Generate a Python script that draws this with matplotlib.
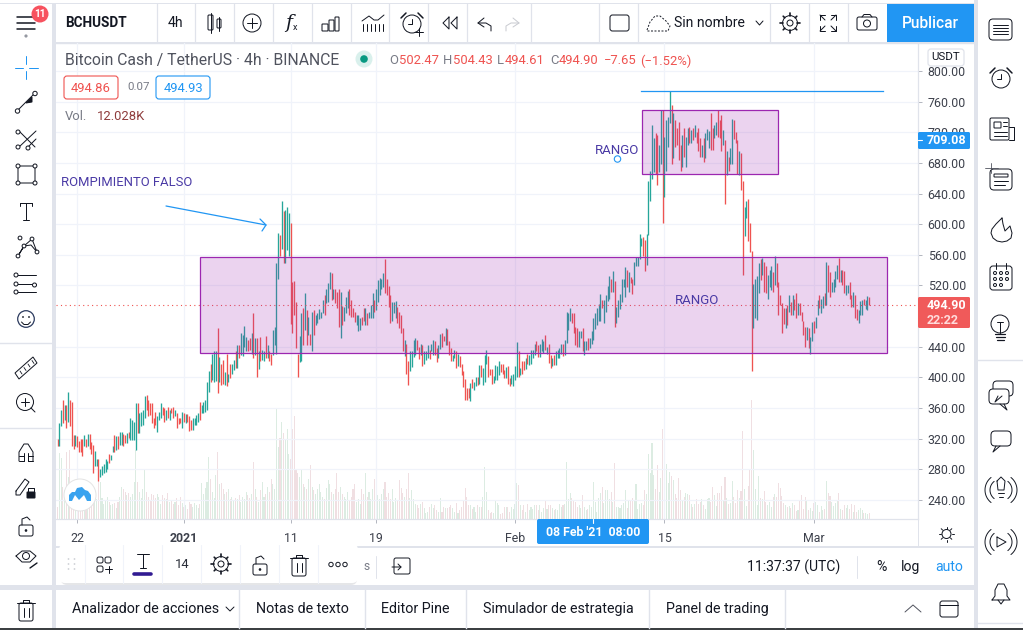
import numpy as np
import matplotlib
matplotlib.use("Agg")
import matplotlib.pyplot as plt
from matplotlib.patches import Rectangle, Circle, FancyBboxPatch, Polygon

plt.rcParams['font.family'] = ['Roboto', 'DejaVu Sans']

# 4h bars, left to right
highs = [
    320,340,358,370,364,364,381,371,368,325, 325,323,317,319,320,325,320,326,326,316,
    312,304,294,294,281,284,287,293,291,300, 299,310,325,323,323,329,329,326,325,328,
    329,347,344,342,366,366,353,355,357,376, 377,371,367,366,347,355,349,355,366,362,
    360,357,362,358,360,361,357,353,347,347, 355,353,352,352,349,344,347,347,351,353,
    368,364,368,370,394,409,418,430,435,435, 464,426,418,423,407,431,404,418,418,423,
    434,442,442,458,455,467,453,449,451,458, 484,451,451,434,453,436,434,454,442,434,
    431,462,466,549,588,586,630,617,618,622, 615,602,525,526,499,430,454,484,490,510,
    488,479,457,486,488,481,484,489,486,501, 508,515,523,538,536,516,515,512,516,512,
    493,492,505,513,515,501,490,486,481,481, 478,479,490,490,484,486,495,510,501,515,
    527,530,529,536,554,528,519,508,499,499, 500,492,486,481,464,449,444,421,434,435,
    449,451,449,440,444,442,434,435,442,436, 444,449,447,439,442,457,458,454,465,463,
    447,439,429,436,434,431,428,417,408,398, 386,386,393,398,394,401,400,416,416,412,
    429,436,428,411,411,402,416,415,421,417, 417,410,414,415,399,403,404,415,446,434,
    412,421,422,425,431,429,436,436,444,447, 442,444,450,448,455,440,444,429,425,429,
    434,436,439,444,444,449,485,484,490,484, 484,466,464,460,461,464,447,448,451,451,
    460,478,484,490,496,509,501,501,508,519, 532,528,539,526,492,501,509,528,529,544,
    540,537,531,529,551,557,557,587,582,583, 580,587,656,669,729,712,719,716,703,749,
    749,714,736,740,774,756,745,736,725,734, 703,716,725,714,726,727,723,726,730,721,
    725,712,703,712,719,724,722,745,725,730, 733,749,736,742,723,710,695,688,700,737,
    736,721,710,695,693,656,623,630,633,601, 565,522,529,532,549,555,556,551,545,534,
    540,545,538,559,549,525,508,497,490,490, 494,508,499,508,503,510,497,497,486,473,
    466,466,464,453,472,473,479,501,507,503, 506,510,551,547,538,525,529,539,547,556,
    540,540,539,521,521,525,508,512,508,489, 488,500,501,503,501,506,505,
]
lows = [
    311,310,337,340,344,334,342,336,310,306, 310,309,303,302,297,310,309,310,307,300,
    275,284,284,265,270,273,275,277,281,288, 292,303,303,305,307,312,312,310,314,314,
    321,318,318,318,305,327,327,336,338,347, 357,350,351,340,334,338,329,344,347,351,
    342,344,347,344,353,347,349,334,339,340, 334,342,340,342,330,331,331,338,338,342,
    344,353,354,355,357,381,394,396,394,395, 380,394,390,392,390,389,394,399,405,410,
    412,412,425,429,428,440,434,434,436,431, 425,429,401,411,421,423,421,425,425,421,
    416,429,442,431,529,558,568,549,550,566, 558,470,458,481,438,400,420,421,442,462,
    442,455,442,434,455,468,471,476,477,484, 482,497,499,516,501,503,497,490,466,452,
    468,473,484,490,481,479,479,472,468,461, 462,468,473,468,468,477,477,477,486,488,
    499,508,516,518,510,508,492,471,473,484, 477,471,464,458,434,428,404,390,408,414,
    427,429,436,424,429,415,418,423,425,424, 434,429,429,420,425,437,440,447,442,442,
    429,422,421,425,412,415,413,403,388,370, 370,373,369,386,384,389,390,391,400,390,
    394,418,400,403,391,393,396,397,403,407, 405,399,399,391,389,391,389,397,401,401,
    403,405,410,411,418,416,418,425,429,434, 427,427,434,432,436,431,419,412,415,416,
    416,425,425,431,428,429,445,462,473,471, 458,442,440,440,451,435,429,436,436,439,
    444,449,463,468,473,474,490,471,486,500, 503,512,512,466,471,479,489,499,518,505,
    518,512,523,509,521,545,545,555,571,558, 539,547,586,630,659,668,666,651,668,679,
    601,636,669,701,732,678,686,701,703,684, 669,675,688,675,704,706,706,710,714,706,
    695,688,688,681,687,710,700,697,697,712, 716,714,712,695,704,627,664,669,678,679,
    711,706,665,664,645,534,585,608,578,564, 408,464,477,475,510,527,534,512,510,503,
    518,514,512,521,518,482,495,458,470,464, 468,486,482,482,488,477,482,482,473,455,
    440,449,438,431,447,458,464,482,490,484, 490,495,495,512,505,512,512,518,529,525,
    525,520,510,508,510,503,492,492,477,475, 471,482,481,495,489,488,495,
]
directions = (
    "RGGRGRGRRR" "GRRRRGRGRR" "RGGRGGGGGR" "GGRGRGGRRG" "RGGGGRGGGG" "RRRRRRGGGR"
    "RGRGRRGRRR" "GRGRRRGGGG" "RGGGGGRGGG" "RGRRGRGRGG" "RGRGGGGRRG" "RGRGRGGRGR"
    "RGGGGRGRGG" "GRRRRRGGRG" "RGRGRGGGGG" "RGGGRGRRRG" "RGGGRRRRGG" "GRRGRGGGRG"
    "GGGGRRRRGG" "GRRRRGRRGG" "GGRRGRGGGR" "GGRRGGRRGR" "RRGGRGRRRR" "RRGRGGRGRG"
    "GGRRRGGGGR" "RRGRRGGGGR" "GRRGRGGGGR" "RGGGRGRRGR" "GGGGRGGGGR" "RRRGGRGGRG"
    "GGGGGGRGGG" "GRGRGGGGGG" "RGRRGGGGGR" "RGGGGGRRGG" "RGGGGRGRRR" "RGRGGRGRGR"
    "RRGRGGGRRG" "GRRRGRGRGG" "RRRGRRGGRR" "RGGGGRGRRG" "GGRGRRRRRG" "RGRGRRGRRR"
    "RGRGGRGGRG" "GRGRRGGGGR" "GRRGGRRGRR" "GGGRGGR"
)
volumes_k = [
    25,132,122,65,59,135,85,139,39,25, 32,29,45,25,39,42,32,25,35,59,
    49,47,40,80,75,42,30,37,45,35, 28,30,32,22,35,45,65,60,55,48,
    52,45,50,75,139,75,55,42,60,100, 55,45,38,50,48,42,50,45,30,48,
    42,40,52,35,38,30,35,42,28,45, 32,25,28,20,35,30,25,32,28,22,
    30,72,50,62,75,125,80,55,42,88, 135,70,72,60,50,55,60,40,45,38,
    42,40,48,35,45,40,55,48,42,50, 115,60,45,35,58,75,45,50,65,55,
    80,70,60,222,145,162,194,172,160,180, 130,120,180,206,100,92,85,99,70,65,
    60,80,109,65,58,50,60,70,55,45, 40,62,79,70,55,50,60,92,55,65,
    50,45,40,55,38,45,60,70,35,40, 30,60,50,92,45,55,40,60,80,60,
    48,40,50,60,75,45,52,40,60,35, 42,38,79,62,52,45,60,92,42,58,
    40,30,28,22,30,35,22,12,15,25, 30,22,28,18,15,42,15,25,22,22,
    25,28,22,15,32,12,18,25,38,62, 45,28,28,20,25,15,28,25,25,45,
    105,55,18,12,15,12,38,32,28,10, 12,25,25,25,15,25,20,30,72,68,
    28,18,28,15,30,18,25,20,28,28, 18,28,15,22,38,20,28,28,22,18,
    20,18,30,25,28,30,115,40,52,42, 38,35,25,28,22,48,25,18,20,28,
    25,75,35,15,42,52,65,32,58,58, 40,55,35,112,25,25,22,28,32,58,
    22,38,38,42,38,70,20,30,32,28, 58,50,130,92,153,89,61,109,55,82,
    180,79,110,73,94,87,79,51,43,82, 59,39,45,52,51,49,31,25,31,41,
    31,35,41,29,21,41,43,35,64,49, 27,53,53,67,39,84,43,31,32,77,
    45,32,59,43,57,176,61,27,67,100, 238,139,61,29,87,43,41,57,35,29,
    35,25,45,51,45,73,63,47,33,29, 25,27,23,33,29,17,19,39,49,21,
    45,39,19,23,17,32,35,29,15,27, 19,20,77,53,47,35,27,32,39,53,
    21,19,29,23,29,21,31,15,29,15, 19,23,19,13,13,11,12,
]
price_ticks = [800, 760, 720, 680, 640, 600, 560, 520, 440, 400, 360, 320, 280, 240]
date_ticks = [11, 71, 131, 179, 257, 341, 425]
date_labels = ['22', '2021', '11', '19', 'Feb', '15', 'Mar']
last_price = 494.9
range_low, range_high = 431.5, 556.7
range_left, range_right = 80, 466
top_low, top_high = 665, 748.6
top_left, top_right = 328.5, 405
resistance = 773.9
resistance_left, resistance_right = 327.6, 463.6

UP, DOWN = '#26a69a', '#ef5350'
INK = '#131722'
GREY = '#787b86'
LINE = '#e0e3eb'
BLUE = '#2196f3'
VIOLET = '#4a3aa5'
W, H = 1023, 630

fig = plt.figure(figsize=(W / 100, H / 100), dpi=100, facecolor=LINE)

def pixel_axes(z):
    a = fig.add_axes([0, 0, 1, 1], zorder=z, facecolor='none')
    a.set_xlim(0, W)
    a.set_ylim(H, 0)
    a.axis('off')
    return a

bg = pixel_axes(0)
ov = pixel_axes(5)

for x0, y0, x1, y1 in [(0, 4, 52, 585), (0, 590, 52, 628), (56, 4, 974, 42), (56, 43, 974, 546),
                       (56, 548, 974, 585), (56, 590, 974, 628), (978, 0, W, 628), (0, 0, 974, 3)]:
    bg.add_patch(Rectangle((x0, y0), x1 - x0, y1 - y0, fc='white', ec='none'))
bg.add_patch(Rectangle((0, 628), W, 2, fc='#3c4043', ec='none'))

# chart area, same pixel box for volume and candles
box_px = [56 / W, 1 - 519 / H, (918 - 56) / W, (519 - 43) / H]
x0_px, bar_px = 57.5, 1.78
xlim = ((56 - x0_px) / bar_px, (918 - x0_px) / bar_px)

vol = fig.add_axes(box_px, zorder=1, facecolor='none')
ax = fig.add_axes(box_px, zorder=2, facecolor='none')

idx = np.arange(len(highs))
is_up = np.array(list(directions)) == 'G'
vol.bar(idx, volumes_k, width=0.6, color=np.where(is_up, '#dcecE2', '#f0dfe2'))
vol.set_xlim(xlim)
vol.set_ylim(0, 952)
vol.axis('off')

ax.set_xlim(xlim)
ax.set_ylim(800 - 448 / 0.766, 800 + 28 / 0.766)
ax.set_yticks(price_ticks, [f'{p:.2f}' for p in price_ticks])
ax.set_xticks(date_ticks, date_labels)
ax.yaxis.tick_right()
ax.grid(True, color='#f0f3fa', lw=0.9)
ax.set_axisbelow(True)
ax.tick_params(axis='y', length=3, width=0.7, color='#b2b5be', labelcolor='#3d414c', labelsize=8.9, pad=4)
ax.tick_params(axis='x', length=3, width=0.7, color='#b2b5be', labelcolor='#3d414c', labelsize=8.9, pad=6)
ax.get_xticklabels()[1].set_fontweight('bold')
for side in ['top', 'left']:
    ax.spines[side].set_visible(False)
for side in ['right', 'bottom']:
    ax.spines[side].set_color(LINE)
    ax.spines[side].set_linewidth(0.9)

ax.vlines(idx, lows, highs, colors=np.where(is_up, UP, DOWN), lw=0.95, zorder=3)
ax.axhline(last_price, color=DOWN, lw=0.8, ls=(0, (1, 3)), zorder=3.5)
for l, r, b, t in [(range_left, range_right, range_low, range_high), (top_left, top_right, top_low, top_high)]:
    ax.add_patch(Rectangle((l, b), r - l, t - b, fc=(0.612, 0.153, 0.69, 0.2), ec='#9c27b0', lw=0.9, zorder=4))
ax.plot([resistance_left, resistance_right], [resistance, resistance], color=BLUE, lw=0.9, zorder=4)

def ln(xs, ys, c=INK, lw=0.72, z=2, **k):
    k.setdefault('solid_capstyle', 'round')
    ov.plot(xs, ys, color=c, lw=lw, zorder=z, **k)

def rbox(x0, y0, x1, y1, r=2, fc='none', ec=INK, lw=0.72, z=2, a=ov):
    a.add_patch(FancyBboxPatch((x0 + r, y0 + r), x1 - x0 - 2 * r, y1 - y0 - 2 * r,
                               boxstyle=f'round,pad={r},rounding_size={r}', fc=fc, ec=ec, lw=lw, zorder=z))

def circ(x, y, r, fc='none', ec=INK, lw=0.72, z=2):
    ov.add_patch(Circle((x, y), r, fc=fc, ec=ec, lw=lw, zorder=z))

def txt(x, y, s, px=14, c=INK, ha='left', **k):
    ov.text(x, y, s, fontsize=px * 0.72, color=c, ha=ha, va='center', zorder=k.pop('z', 6), **k)

def gear(x, y, z=2):
    circ(x, y, 3, z=z)
    circ(x, y, 7.4, z=z)
    for t in np.arange(8) * np.pi / 4:
        ln([x + 7.4 * np.cos(t), x + 9.6 * np.cos(t)], [y + 7.4 * np.sin(t), y + 9.6 * np.sin(t)], lw=1.2, z=z)

def lock(x, y, z=2):
    rbox(x - 7, y - 2, x + 7, y + 9, z=z)
    ln([x - 4, x - 4, x + 1, x + 4], [y - 2, y - 8, y - 10, y - 7], z=z)
    circ(x, y + 3.5, 0.8, fc=INK, z=z)

def trash(x, y, z=2):
    rbox(x - 7, y - 7, x + 7, y + 11, z=z)
    ln([x - 9, x + 9], [y - 7, y - 7], z=z)
    ln([x - 3, x - 3, x + 3, x + 3], [y - 7, y - 10, y - 10, y - 7], z=z)
    ln([x - 2.5, x - 2.5], [y - 2, y + 7], z=z)
    ln([x + 2.5, x + 2.5], [y - 2, y + 7], z=z)

def alarm(x, y, r=9):
    circ(x, y, r)
    ln([x, x, x - 4], [y - 5, y, y])
    ln([x - r - 2, x - r + 3], [y - r + 3, y - r - 2], lw=1.1)
    ln([x + r + 2, x + r - 3], [y - r + 3, y - r - 2], lw=1.1)

def chat(x, y, flip=False):
    s = -1 if flip else 1
    rbox(x - 10, y - 9, x + 10, y + 6, r=4, fc='white')
    ln([x - 5 * s, x - 8 * s, x - 1 * s], [y + 6, y + 12, y + 6], z=3)

# top toolbar
for x in [157, 195, 234, 273, 312, 351, 389, 428, 467, 531, 599, 638, 770, 809, 848]:
    bg.plot([x, x], [4, 42], color=LINE, lw=0.9)
bg.plot([56, 974], [42.5, 42.5], color=LINE, lw=1)
bg.plot([56, 974], [547, 547], color=LINE, lw=1.2)
for y in (17, 23, 29):
    ln([17, 35], [y, y], lw=1.1)
circ(26, 36, 1.6, fc='#9598a1', ec='none')
circ(40, 14, 8.5, fc='#f7525f', ec='none', z=3)
txt(40, 14, '11', 10, 'white', ha='center', fontweight='bold')
txt(65, 23, 'BCHUSDT', 13.5, fontweight='bold')
txt(175, 23, '4h', 14, ha='center')
rbox(208, 15, 213, 30, r=1); ln([210.5, 210.5], [13, 33])
rbox(217, 19, 221, 28, r=1); ln([219, 219], [17, 31])
circ(252, 23, 9); ln([247, 257], [23, 23]); ln([252, 252], [18, 28])
txt(285, 23, 'f', 19, style='italic', family='DejaVu Serif'); txt(293, 28, 'x', 9)
for x0, x1, y in [(322, 328, 24), (329, 334, 20), (335, 339, 17)]:
    rbox(x0, y, x1, 31, r=0.5)
for x in range(363, 384, 4):
    ln([x, x], [24, 31])
ln([362, 369, 374, 378, 384], [21, 16, 20, 20, 15], lw=0.7)
alarm(412, 24, 9); ln([415, 423], [32, 32]); ln([419, 419], [28, 36])
for dx in (0, 8):
    ln([449 + dx, 443 + dx, 449 + dx, 449 + dx], [17, 23, 29, 17])
ln([484, 478, 484], [18, 23, 27]); ln([478, 486, 491, 491], [23, 23, 26, 31])
ln([513, 519, 513], [18, 23, 27], c='#c9cbd1'); ln([519, 511, 506, 506], [23, 23, 26, 31], c='#c9cbd1')
rbox(610, 15, 629, 31, r=2.5)
ln([647, 650, 655, 660, 666, 670, 668, 647, 647], [30, 22, 16, 16, 21, 26, 31, 31, 30], ls=(0, (2, 1.6)), lw=0.7)
txt(674, 23, 'Sin nombre', 14)
ln([756, 759.5, 763], [21, 25, 21])
gear(790, 23)
for sx, sy in [(-1, -1), (1, -1), (-1, 1), (1, 1)]:
    ln([828 + sx * 8, 828 + sx * 8, 828 + sx * 3], [23 + sy * 3, 23 + sy * 8, 23 + sy * 8])
    ln([828 + sx * 8, 828 + sx * 3], [23 + sy * 8, 23 + sy * 3])
rbox(857, 17, 877, 30, r=2); circ(867, 23.5, 3.5); ln([862, 864, 870, 872], [17, 14.5, 14.5, 17])
ov.add_patch(Rectangle((887, 4), 87, 38, fc=BLUE, ec='none'))
txt(930.5, 23, 'Publicar', 15.5, 'white', ha='center', fontweight='medium')

# legend rows
txt(65, 60, 'Bitcoin Cash / TetherUS · 4h · BINANCE', 15.7, '#50535e')
circ(364, 59, 8.5, fc='#d9f0ec', ec='none')
circ(364, 59, 3.8, fc='#089981', ec='none', z=3)
for x, s in [(389, 'O'), (443, 'H'), (497, 'L'), (550, 'C')]:
    txt(x, 61, s, 13, GREY)
for x, s in [(399, '502.47'), (453, '504.43'), (505, '494.61'), (559, '494.90'), (604, '−7.65'), (640, '(−1.52%)')]:
    txt(x, 61, s, 13, DOWN)
rbox(64, 76, 118, 99, r=3, fc='white', ec=DOWN, lw=0.8)
txt(91, 88, '494.86', 13, DOWN, ha='center')
txt(127, 87, '0.07', 11.5, GREY)
rbox(156, 76, 210, 99, r=3, fc='white', ec=BLUE, lw=0.8)
txt(183, 88, '494.93', 13, BLUE, ha='center')
txt(65, 116, 'Vol.', 13, GREY)
txt(97, 116, '12.028K', 13, '#8f3d3d')
rbox(928, 49, 964, 66, r=3, fc='white', ec=LINE, lw=0.9, z=4)
txt(946, 57.5, 'USDT', 11.5, ha='center')

# drawings
txt(595, 150, 'RANGO', 13.3, VIOLET)
txt(675, 301, 'RANGO', 13.3, VIOLET)
txt(61, 182, 'ROMPIMIENTO FALSO', 13, VIOLET)
circ(617.5, 159, 3.2, fc='white', ec=BLUE, lw=0.8)
ln([166, 266], [206, 225], c=BLUE, lw=0.9)
ln([260, 266, 262], [219, 225, 231], c=BLUE, lw=0.9)

# price flags
ov.add_patch(FancyBboxPatch((918, 132), 52, 17, boxstyle='round,pad=0,rounding_size=1.5', fc=BLUE, ec='none', zorder=4))
txt(927, 141, '709.08', 12.5, 'white', fontweight='bold')
ln([918, 922], [140, 140], c='white', lw=0.8, z=5)
ov.add_patch(FancyBboxPatch((918, 297), 52, 31, boxstyle='round,pad=0,rounding_size=1.5', fc='#f05a5a', ec='none', zorder=4))
txt(927, 305.5, '494.90', 12.5, 'white', fontweight='bold')
txt(927, 320, '22:22', 12.5, '#ffdcdc', fontweight='bold')

# logo
circ(80, 495, 16, fc='white', ec='#e4e4e4', z=4)
ov.add_patch(Polygon([(69, 501), (69, 495), (72, 492), (75, 492), (77, 488), (82, 487), (85, 490), (88, 491),
                      (91, 495), (91, 501), (87, 501), (84, 495), (79, 500), (75, 495), (72, 501)],
                     fc='#3aa3ef', ec='none', zorder=5))

# time axis extras
ov.add_patch(FancyBboxPatch((537, 519), 112, 25, boxstyle='round,pad=0,rounding_size=2', fc=BLUE, ec='none', zorder=4))
txt(593, 533, "08 Feb '21  08:00", 12.2, 'white', ha='center', fontweight='bold')
ln([593, 593], [519, 523], c='white', lw=0.8, z=5)
ln([918, 918], [519, 547], c=LINE)
circ(946.5, 534, 4.5)
for t in np.arange(8) * np.pi / 4:
    ln([946.5 + 5.5 * np.cos(t), 946.5 + 7.5 * np.cos(t)], [534 + 5.5 * np.sin(t), 534 + 7.5 * np.sin(t)], lw=0.7)

# date range bar
txt(363, 566, 's', 12, GREY)
ln([376, 376], [556, 578], c=LINE)
rbox(394, 558, 410, 574, r=2, lw=0.7)
ln([392, 401, 398], [567, 567, 564], lw=0.7); ln([401, 398], [567, 570], lw=0.7)
txt(794, 567, '11:37:37 (UTC)', 14, ha='center')
ln([857, 857], [556, 578], c=LINE)
txt(881, 567, '%', 14, ha='center')
txt(911, 567, 'log', 14, ha='center')
txt(949, 567, 'auto', 14, BLUE, ha='center')

# floating drawing toolbar
ov.add_patch(FancyBboxPatch((61, 547), 296, 38, boxstyle='round,pad=0,rounding_size=6', fc='#d5d6da', ec='none', zorder=2.5, alpha=0.6))
ov.add_patch(FancyBboxPatch((59, 544), 299, 39, boxstyle='round,pad=0,rounding_size=6', fc='white', ec='none', zorder=3))
for x in [85, 123, 162, 201, 240, 279, 318]:
    ln([x, x], [545, 583], c='#f0f3fa', lw=0.8, z=4)
for dot_x in (68, 74):
    for dot_y in (559, 564, 569):
        circ(dot_x + 0.5, dot_y, 0.9, fc='#cfd1d6', ec='none', z=4)
for bx, by in [(100, 560), (108, 560), (100, 569)]:
    rbox(bx - 3, by - 3, bx + 3, by + 3, r=2, lw=0.7, z=4)
ln([105, 112], [569, 569], z=4); ln([108.5, 108.5], [565.5, 572.5], z=4)
ln([137, 149], [554, 554], z=4); ln([143, 143], [554, 568], z=4); ln([140, 146], [568, 568], z=4)
ln([134, 151], [574, 574], c='#311b92', lw=2.6, z=4)
txt(182, 565, '14', 13, '#2a2e39', ha='center')
gear(221, 564, z=4)
lock(260, 566, z=4)
trash(299, 565, z=4)
for x in (331, 338, 345):
    circ(x, 564.5, 2.2, lw=0.7, z=4)

# bottom tabs
for x in [239, 365, 466, 649, 785]:
    bg.plot([x, x], [590, 628], color=LINE, lw=1)
for x, s in [(72, 'Analizador de acciones'), (256, 'Notas de texto'), (381, 'Editor Pine'),
             (483, 'Simulador de estrategia'), (666, 'Panel de trading')]:
    txt(x, 609, s, 14.2)
ln([226, 230, 234], [607, 611, 607], lw=0.7)
ln([905, 913, 921], [612, 605, 612], lw=0.7, c='#50535e')
rbox(940, 601, 958, 617, r=2.5); ln([940, 958], [605, 605])

# left toolbar
for y in (343, 428):
    bg.plot([0, 52], [y, y], color=LINE, lw=1)
bg.plot([978, W], [360, 360], color=LINE, lw=1)
bg.plot([978, W], [623, 623], color=LINE, lw=1)
ln([15, 23], [68, 68], c=BLUE); ln([29, 38], [68, 68], c=BLUE)
ln([26, 26], [56, 64], c=BLUE); ln([26, 26], [71, 79], c=BLUE)
ln([18, 34], [110, 94]); circ(17.5, 111, 2.2, fc='white'); circ(35, 93.5, 2.2, fc='white')
ov.add_patch(Polygon([(26, 103), (32, 97), (32, 102)], fc=INK, ec=INK, lw=0.7, zorder=3))
ln([19, 35], [131, 147]); ln([19, 36], [147, 131]); ln([28, 36], [147, 139])
for x, y in [(18, 132), (18, 147), (28, 148)]:
    circ(x, y, 2, fc='white', z=3)
rbox(18, 166, 35, 183, r=0.1)
for x, y in [(18, 166), (35, 166), (18, 183), (35, 183)]:
    circ(x, y, 2, fc='white', z=3)
ln([20, 32], [203, 203]); ln([26, 26], [203, 220]); ln([23, 29], [220, 220]); ln([20, 20], [203, 206]); ln([32, 32], [203, 206])
ln([18, 24, 32, 37, 31, 24, 18], [256, 246, 239, 252, 245, 246, 256])
for x, y in [(18, 256), (20, 238), (24, 246), (32, 239), (37, 252)]:
    circ(x, y, 1.9, fc='white', z=3)
for y in (275, 284, 292):
    ln([16, 36], [y, y])
    circ(16, y, 2, fc='white', z=3)
circ(34.5, 285, 2, fc='white', z=3)
circ(26, 319, 8.3, ec='#2b3a5e', lw=0.9)
circ(23, 317, 0.9, fc=INK, ec='none'); circ(29, 317, 0.9, fc=INK, ec='none')
ln([21.5, 24, 28, 30.5], [322, 324.5, 324.5, 322])
ov.add_patch(Polygon([(15, 373), (33, 357), (37, 363), (19, 379)], fc='white', ec=INK, lw=0.72, zorder=2))
for mark_x, mark_y in [(20, 371), (24, 367.5), (28, 364), (32, 360.5)]:
    ln([mark_x, mark_x + 2], [mark_y, mark_y + 3], lw=0.6, z=3)
circ(25, 402, 8.5); ln([31, 35], [408, 412]); ln([21, 29], [402, 402]); ln([25, 25], [398, 406])
ln([19, 19, 24, 28, 33, 33], [461, 452, 444, 444, 452, 461])
ln([24, 24], [461, 453]); ln([28, 28], [461, 453])
ln([19, 24], [461, 461]); ln([28, 33], [461, 461]); ln([19, 24], [456, 456]); ln([28, 33], [456, 456])
ln([16, 25, 29, 20, 16, 16], [491, 479, 482, 495, 495, 491])
rbox(27, 492, 35, 498, r=0.5, fc=INK); ln([28, 28, 34, 34], [492, 488, 488, 492])
lock(26, 527)
ln([16, 22, 30, 36, 30, 22, 16], [556, 551, 551, 556, 562, 562, 556]); circ(26, 556, 3.5)
ln([30, 37], [568, 563], lw=1.0)
trash(26, 610)

# right toolbar
rbox(989, 19, 1012, 40, r=4)
for y in (25, 28, 31, 34):
    ln([993, 1008], [y, y], lw=0.7)
alarm(1001, 79, 9)
rbox(990, 118, 1009, 140, r=1.5); ln([1009, 1014, 1014, 1009], [127, 127, 140, 140])
rbox(994, 122, 1001, 128, r=0.5)
for y, x0 in [(122, 1003), (126, 1003), (132, 994), (136, 994)]:
    ln([x0, 1007], [y, y], lw=0.7)
rbox(990, 169, 1012, 190, r=4)
ln([985, 998], [168, 168], lw=0.6, c='#50535e'); ln([991, 991], [163, 173], lw=0.6, c='#50535e')
rbox(994, 174, 1008, 177, r=0.5)
ln([994, 1008], [181, 181]); ln([994, 1005], [185, 185])
ln([1002, 996, 992, 991, 993, 997, 1002, 1007, 1011, 1012, 1010, 1005, 1003, 1002],
   [218, 224, 229, 233, 238, 241, 242, 241, 238, 233, 226, 231, 224, 218])
rbox(990, 266, 1012, 290, r=3)
for x in (996, 1006):
    ln([x, x], [263, 269])
for x in (995, 1001, 1007):
    for y in (273, 279):
        circ(x, y, 1.5)
for x in (995, 1001):
    circ(x, 285, 1.5)
circ(1000, 324, 9)
ln([997, 1003], [322, 322]); ln([1000, 1000], [322, 333])
for y, hw in [(334, 5), (337, 4.5), (340, 3.5)]:
    ln([1000 - hw, 1000 + hw], [y, y], lw=0.9)
chat(1003, 390); chat(999, 398, flip=True)
chat(1001, 440)
arc = np.linspace(-0.9, 0.9, 20)
for y0 in (490, 542):
    for r in (11, 16):
        ln(1001 + r * np.cos(arc), y0 + r * np.sin(arc), lw=0.7)
        ln(1001 - r * np.cos(arc), y0 + r * np.sin(arc), lw=0.7)
ln([997, 1001, 1005, 1004, 998, 997], [481, 477, 481, 490, 490, 481], lw=0.7)
ln([998, 1004], [493, 493], lw=0.7); ln([999, 1003], [497, 497], lw=0.7)
ln([997, 1006, 997, 997], [537, 542, 547, 537], lw=0.7)
ln([992, 995, 995, 998, 1004, 1007, 1007, 1010, 992],
   [600, 596, 590, 584, 584, 590, 596, 600, 600])
ln([998, 1001, 1004], [600, 604, 600])

fig.savefig('out.png', dpi=100, facecolor=LINE)
